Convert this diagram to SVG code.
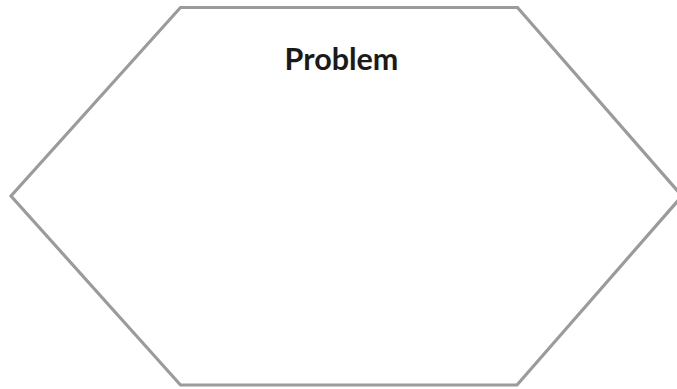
<svg xmlns="http://www.w3.org/2000/svg" width="677" height="389" viewBox="0 0 677 389">
<style>
.shape{fill:#ffffff;stroke:#9b9b9b;stroke-width:3.2;stroke-linejoin:miter}
.label{font-family:Lato,"Open Sans",sans-serif;font-weight:bold;font-size:30.5px;fill:#1a1a1a;text-anchor:middle}
</style>
<rect width="677" height="389" fill="#ffffff"/>
<g id="problem">
<polygon class="shape" points="180.5,7.5 517.5,7.5 682,196 517,385 180.5,385 11,196"/>
<text class="label" x="341.5" y="69.5">Problem</text>
</g>
<g id="connectors"/>
</svg>
